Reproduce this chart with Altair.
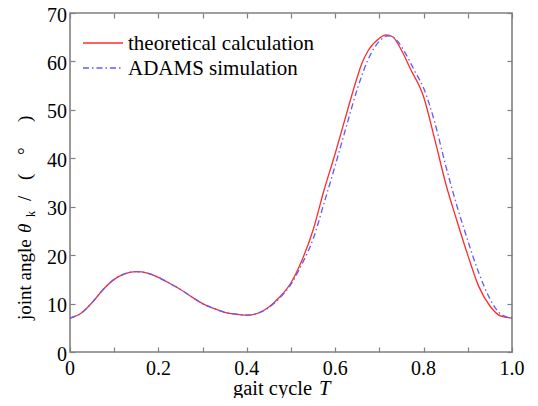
import altair as alt
import pandas as pd

# ---- data ----
t_theory = [0, 0.025, 0.05, 0.075, 0.1, 0.125, 0.15, 0.175, 0.2, 0.225, 0.25, 0.275,
            0.3, 0.325, 0.35, 0.375, 0.4, 0.425, 0.45, 0.475, 0.5, 0.525, 0.55, 0.575,
            0.6, 0.625, 0.65, 0.66, 0.675, 0.7, 0.715, 0.73, 0.75, 0.77, 0.8, 0.825,
            0.85, 0.875, 0.9, 0.925, 0.95, 0.975, 1.0]
v_theory = [7.0, 8.0, 10.2, 12.9, 15.0, 16.2, 16.6, 16.3, 15.4, 14.2, 12.9, 11.4,
            10.0, 9.0, 8.2, 7.8, 7.6, 8.0, 9.3, 11.4, 14.3, 19.0, 25.2, 33.5,
            41.0, 49.0, 56.8, 59.5, 62.3, 64.8, 65.5, 65.1, 62.3, 58.5, 52.7, 44.0,
            34.8, 27.2, 20.0, 13.5, 9.5, 7.4, 7.0]

t_adams = [0, 0.025, 0.05, 0.075, 0.1, 0.125, 0.15, 0.175, 0.2, 0.225, 0.25, 0.275,
           0.3, 0.325, 0.35, 0.375, 0.4, 0.425, 0.45, 0.475, 0.5, 0.525, 0.55, 0.575,
           0.6, 0.625, 0.65, 0.675, 0.7, 0.72, 0.74, 0.76, 0.78, 0.8, 0.825, 0.85,
           0.875, 0.9, 0.925, 0.95, 0.975, 1.0]
v_adams = [7.0, 8.0, 10.2, 12.9, 15.0, 16.2, 16.6, 16.3, 15.4, 14.2, 12.9, 11.4,
           10.0, 9.0, 8.2, 7.8, 7.6, 8.0, 9.2, 11.2, 14.0, 18.2, 23.3, 30.8,
           38.5, 46.5, 54.3, 60.5, 64.2, 65.3, 64.3, 61.5, 58.0, 54.5, 47.5, 38.5,
           30.3, 23.0, 16.3, 11.0, 7.8, 7.0]

series_names = ["theoretical calculation", "ADAMS simulation"]
series_colors = ["#ff2b2b", "#5c5cff"]

x_ticks = [0, 0.1, 0.2, 0.3, 0.4, 0.5, 0.6, 0.7, 0.8, 0.9, 1.0]
y_ticks = [0, 10, 20, 30, 40, 50, 60, 70]
x_label_values = [0, 0.2, 0.4, 0.6, 0.8, 1.0]
x_label_texts = ["0", "0.2", "0.4", "0.6", "0.8", "1.0"]
y_label_texts = ["0", "10", "20", "30", "40", "50", "60", "70"]

rows = [{"t": t, "v": v, "s": series_names[0]} for t, v in zip(t_theory, v_theory)]
rows += [{"t": t, "v": v, "s": series_names[1]} for t, v in zip(t_adams, v_adams)]
df = pd.DataFrame(rows)
xlab_df = pd.DataFrame({"t": x_label_values, "txt": x_label_texts})
ylab_df = pd.DataFrame({"v": y_ticks, "txt": y_label_texts})

W, H = 442, 339
FONT = "Liberation Serif"
GRAY = "#808080"

xscale = alt.Scale(domain=[0, 1], nice=False, zero=False)
yscale = alt.Scale(domain=[0, 70], nice=False)

common_axis = dict(grid=False, domain=False, tickColor=GRAY, tickWidth=1.2, tickSize=5,
                   offset=-5, labels=False, title=None)

x_bottom = alt.Axis(orient="bottom", values=x_ticks, **common_axis)
x_top = alt.Axis(orient="top", values=x_ticks, **common_axis)
y_left = alt.Axis(orient="left", values=y_ticks, **common_axis)
y_right = alt.Axis(orient="right", values=y_ticks, **common_axis)

base = alt.Chart(df)

theory = base.transform_filter(alt.datum.s == series_names[0]).mark_line(
    interpolate="monotone", strokeWidth=1.3, color=series_colors[0]
).encode(
    x=alt.X("t:Q", scale=xscale, axis=x_bottom),
    y=alt.Y("v:Q", scale=yscale, axis=y_left),
)

adams = base.transform_filter(alt.datum.s == series_names[1]).mark_line(
    interpolate="monotone", strokeWidth=1.3, color=series_colors[1],
    strokeDash=[6, 3, 1.5, 3]
).encode(
    x=alt.X("t:Q", scale=xscale, axis=x_top),
    y=alt.Y("v:Q", scale=yscale, axis=y_right),
)

# tick labels (drawn through the same scales)
xlabels = alt.Chart(xlab_df).mark_text(
    font=FONT, fontSize=20, baseline="alphabetic", align="center", color="black"
).encode(x=alt.X("t:Q", scale=xscale, axis=None), y=alt.value(H + 23), text="txt:N")

ylabels = alt.Chart(ylab_df).mark_text(
    font=FONT, fontSize=20, baseline="alphabetic", align="right", color="black", dy=8.5
).encode(y=alt.Y("v:Q", scale=yscale, axis=None), x=alt.value(-3), text="txt:N")


def txt(text, x, y, size=20, style="normal", angle=0, align="left", baseline="alphabetic"):
    return alt.Chart(alt.Data(values=[{"a": 1}])).mark_text(
        text=text, font=FONT, fontSize=size, fontStyle=style, angle=angle,
        align=align, baseline=baseline, color="black"
    ).encode(x=alt.value(x), y=alt.value(y))


def rule(x1, x2, y, color, dash=None):
    kw = dict(color=color, strokeWidth=1.3)
    if dash:
        kw["strokeDash"] = dash
    return alt.Chart(alt.Data(values=[{"a": 1}])).mark_rule(**kw).encode(
        x=alt.value(x1), x2=alt.value(x2), y=alt.value(y))


legend = [
    rule(13, 53, 30, series_colors[0]),
    rule(13, 53, 55, series_colors[1], [6, 3, 1.5, 3]),
    txt(series_names[0], 58, 37, size=21),
    txt(series_names[1], 58, 62, size=21),
]

xtitle = [
    txt("gait cycle", 163, 382, size=20.5),
    txt("T", 249, 382, size=20.5, style="italic"),
]

ytitle = [
    txt("joint angle", -39, 307, size=19, angle=270),
    txt("θ", -39, 220, size=19, style="italic", angle=270),
    txt("k", -35, 204, size=12, angle=270),
    txt("/", -39, 188, size=19, angle=270),
    txt("(", -39, 167, size=19, angle=270),
    txt("°", -39, 142, size=19, angle=270),
    txt(")", -39, 109, size=19, angle=270),
]

chart = alt.layer(theory, adams, xlabels, ylabels, *legend, *xtitle, *ytitle).properties(
    width=W, height=H,
    autosize=alt.AutoSizeParams(type="none"),
    padding={"left": 62, "top": 5, "right": 18, "bottom": 46},
).configure(background="white", font=FONT).configure_view(
    stroke=GRAY, strokeWidth=1.6
)

chart.save("out.html", embed_options={"renderer": "svg", "actions": False})
